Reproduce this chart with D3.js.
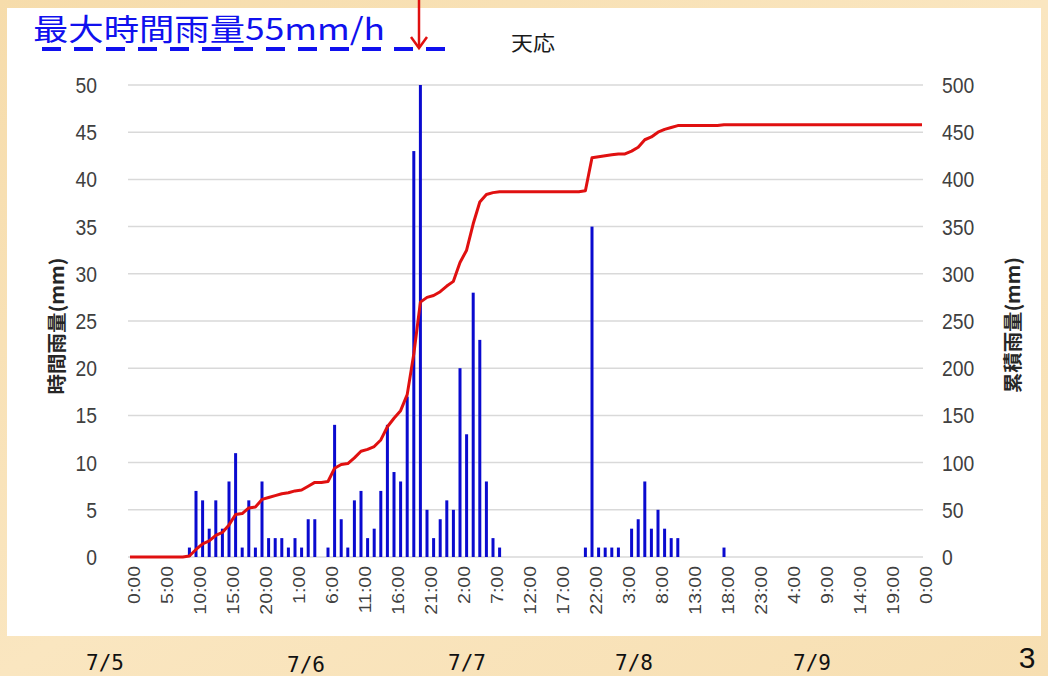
<!DOCTYPE html>
<html><head><meta charset="utf-8">
<script src="https://cdn.jsdelivr.net/npm/d3@7"></script>
<style>html,body{margin:0;padding:0;background:#f8e2b6;}svg{display:block;}</style>
</head><body>
<svg id="chart" width="1048" height="676"></svg>
<script>
// ---- data ----
const hours = d3.range(0, 121); // hourly categories, 7/5 0:00 .. 7/10 0:00
const tickLabels = ["0:00","5:00","10:00","15:00","20:00","1:00","6:00","11:00","16:00","21:00","2:00","7:00","12:00","17:00","22:00","3:00","8:00","13:00","18:00","23:00","4:00","9:00","14:00","19:00","0:00"];
const hourlyRain = [
 0,0,0,0,0,0,0,0,0,1, 7,6,3,6,3,8,11,1,6,1,
 8,2,2,2,1,2,1,4,4,0, 1,14,4,1,6,7,2,3,7,14,
 9,8,17,43,55,5,2,4,6,5, 20,13,28,23,8,2,1,0,0,0,
 0,0,0,0,0,0,0,0,0,1, 35,1,1,1,1,0,3,4,8,3,
 5,3,2,2,0,0,0,0,0,0, 1,0,0,0,0,0,0,0,0,0,
 0,0,0,0,0,0,0,0,0,0, 0,0,0,0,0,0,0,0,0,0, 0];
const cumulativeRain = [
 0,0,0,0,0,0,0,0,0,1, 8,14,17,23,26,34,45,46,52,53,
 61,63,65,67,68,70,71,75,79,79, 80,94,98,99,105,112,114,117,124,138,
 147,155,172,215,270,275,277,281,287,292, 312,325,353,376,384,386,387,387,387,387,
 387,387,387,387,387,387,387,387,387,388, 423,424,425,426,427,427,430,434,442,445,
 450,453,455,457,457,457,457,457,457,457, 458,458,458,458,458,458,458,458,458,458,
 458,458,458,458,458,458,458,458,458,458, 458,458,458,458,458,458,458,458,458,458, 458];
const leftTicks = [0,5,10,15,20,25,30,35,40,45,50];
const rightTicks = [0,50,100,150,200,250,300,350,400,450,500];
const dateLabels = ["7/5","7/6","7/7","7/8","7/9"];
const dateLabelX = [105,306,467,634,812];
const titleText = "天応";
const noteText = "最大時間雨量55mm/h";
const leftTitle = "時間雨量(mm)";
const rightTitle = "累積雨量(mm)";
const pageNo = "3";

// ---- layout ----
const svg = d3.select("#chart");
const W = 1048, H = 676;
const x = d3.scaleLinear().domain([0,120]).range([130,922]);
const yL = d3.scaleLinear().domain([0,50]).range([557,85]).clamp(true);
const yR = d3.scaleLinear().domain([0,500]).range([557,85]);

// background
const defs = svg.append("defs");
const bg = defs.append("linearGradient").attr("id","bg").attr("x1","0").attr("y1","0").attr("x2","1").attr("y2","1");
bg.append("stop").attr("offset","0").attr("stop-color","#f6dcab");
bg.append("stop").attr("offset","0.5").attr("stop-color","#fae6c0");
bg.append("stop").attr("offset","1").attr("stop-color","#f7dfb2");
svg.append("rect").attr("width",W).attr("height",H).attr("fill","url(#bg)");
// white chart panel
svg.append("rect").attr("x",7).attr("y",8).attr("width",1034).attr("height",628).attr("fill","#ffffff");

// gridlines
svg.append("g").selectAll("line").data(leftTicks).join("line")
  .attr("x1",128).attr("x2",923).attr("y1",d=>yL(d)).attr("y2",d=>yL(d))
  .attr("stroke","#d9d9d9").attr("stroke-width",1.5);

// left axis labels
svg.append("g").selectAll("text").data(leftTicks).join("text")
  .attr("transform",d=>`translate(97,${yL(d)}) scale(0.92,1.08)`)
  .attr("text-anchor","end").attr("dominant-baseline","central")
  .attr("font-family","Liberation Sans, Arial, sans-serif").attr("font-size",21)
  .attr("fill","#404040").text(d=>d);
// right axis labels
svg.append("g").selectAll("text").data(rightTicks).join("text")
  .attr("transform",d=>`translate(942,${yR(d)}) scale(0.92,1.08)`)
  .attr("text-anchor","start").attr("dominant-baseline","central")
  .attr("font-family","Liberation Sans, Arial, sans-serif").attr("font-size",21)
  .attr("fill","#404040").text(d=>d);

// x tick labels
svg.append("g").selectAll("text").data(tickLabels).join("text")
  .attr("transform",(d,i)=>`translate(${x(i*5)+5},566) rotate(-90) scale(1.18,1)`)
  .attr("text-anchor","end").attr("dominant-baseline","central")
  .attr("font-family","Liberation Sans, Arial, sans-serif").attr("font-size",16.5)
  .attr("fill","#404040").text(d=>d);

// bars
svg.append("g").selectAll("rect").data(hours.filter(h=>hourlyRain[h]>0)).join("rect")
  .attr("x",h=>x(h)-1.5).attr("width",3)
  .attr("y",h=>yL(hourlyRain[h])).attr("height",h=>yL(0)-yL(hourlyRain[h]))
  .attr("fill","#0a0acf");

// cumulative line
const line = d3.line().x(h=>x(h)).y(h=>yR(cumulativeRain[h]));
svg.append("path").datum(hours).attr("d",line)
  .attr("fill","none").attr("stroke","#e01010").attr("stroke-width",3).attr("stroke-linejoin","round");

// axis titles
svg.append("text").attr("transform","translate(55,326) rotate(-90)")
  .attr("text-anchor","middle").attr("dominant-baseline","central")
  .attr("font-family","Noto Sans CJK JP, sans-serif").attr("font-size",19).attr("font-weight","bold")
  .attr("textLength",137).attr("lengthAdjust","spacingAndGlyphs")
  .attr("fill","#262626").text(leftTitle);
svg.append("text").attr("transform","translate(1011,325) rotate(-90)")
  .attr("text-anchor","middle").attr("dominant-baseline","central")
  .attr("font-family","Noto Sans CJK JP, sans-serif").attr("font-size",19).attr("font-weight","bold")
  .attr("textLength",136).attr("lengthAdjust","spacingAndGlyphs")
  .attr("fill","#262626").text(rightTitle);

// chart title
svg.append("text").attr("x",511).attr("y",42).attr("dominant-baseline","central")
  .attr("font-family","Noto Sans CJK JP, sans-serif").attr("font-size",20).attr("font-weight","normal")
  .attr("textLength",44).attr("lengthAdjust","spacingAndGlyphs")
  .attr("fill","#1a1a1a").text(titleText);

// annotation
svg.append("text").attr("x",33).attr("y",27).attr("dominant-baseline","central")
  .attr("font-family","Noto Sans CJK JP, sans-serif").attr("font-size",30).attr("font-weight","normal")
  .attr("textLength",352).attr("lengthAdjust","spacingAndGlyphs")
  .attr("fill","#1010ee").text(noteText);
svg.append("line").attr("x1",42).attr("x2",452).attr("y1",49).attr("y2",49)
  .attr("stroke","#1010ee").attr("stroke-width",4).attr("stroke-dasharray","19,13");
// red arrow
svg.append("line").attr("x1",419).attr("x2",419).attr("y1",0).attr("y2",47)
  .attr("stroke","#e01010").attr("stroke-width",2.5);
svg.append("path").attr("d","M411,37 L419,48 L427,37").attr("fill","none")
  .attr("stroke","#e01010").attr("stroke-width",2.5);

// date labels under panel
svg.append("g").selectAll("text").data(dateLabels).join("text")
  .attr("x",(d,i)=>dateLabelX[i]).attr("y",(d,i)=> i===1?665:663)
  .attr("text-anchor","middle").attr("dominant-baseline","central")
  .attr("font-family","DejaVu Sans Mono, monospace").attr("font-size",21)
  .attr("fill","#111").text(d=>d);
svg.append("text").attr("x",1027).attr("y",657).attr("text-anchor","middle").attr("dominant-baseline","central")
  .attr("font-family","Liberation Sans, Arial, sans-serif").attr("font-size",30)
  .attr("fill","#111").text(pageNo);
</script>
</body></html>
